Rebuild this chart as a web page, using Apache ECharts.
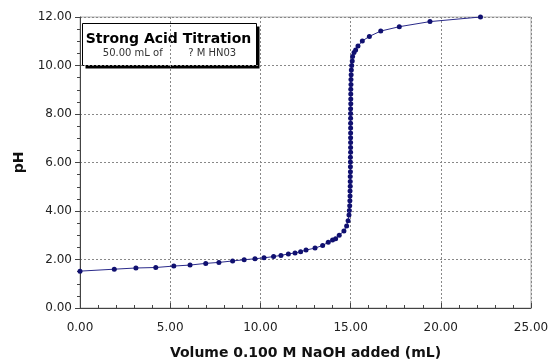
<!DOCTYPE html>
<html>
<head>
<meta charset="utf-8">
<script src="https://cdn.jsdelivr.net/npm/echarts@6/dist/echarts.min.js"></script>
<style>
  html, body { margin: 0; padding: 0; background: #fff; }
  #chart { width: 548px; height: 360px; }
</style>
</head>
<body>
<div id="chart"></div>
<script>
// titration readings (volume of NaOH in mL, measured pH)
var volumes = [
  0.00, 1.90, 3.10, 4.20, 5.20, 6.10, 6.97, 7.70, 8.46, 9.10, 9.70, 10.20,
  10.73, 11.14, 11.55, 11.92, 12.23, 12.53, 13.03, 13.45, 13.76, 14.00, 14.17,
  14.37, 14.63, 14.78, 14.86, 14.91,
  14.93, 14.95, 14.96, 14.97, 14.97, 14.98, 14.98, 14.98, 14.99, 14.99,
  14.99, 14.99, 15.00, 15.00, 15.00, 15.00, 15.00, 15.00, 15.00, 15.00,
  15.00, 15.00, 15.01, 15.01, 15.01, 15.01, 15.02, 15.02, 15.03, 15.04,
  15.06, 15.09, 15.11, 15.19, 15.28, 15.41, 15.65, 16.04, 16.67, 17.70, 19.40, 22.20
];
var phValues = [
  1.52, 1.60, 1.65, 1.67, 1.73, 1.77, 1.84, 1.88, 1.94, 1.99, 2.03, 2.07,
  2.12, 2.17, 2.23, 2.27, 2.32, 2.39, 2.47, 2.58, 2.71, 2.80, 2.86,
  3.00, 3.18, 3.38, 3.60, 3.83,
  4.02, 4.22, 4.42, 4.62, 4.82, 5.02, 5.22, 5.42, 5.62, 5.82,
  6.02, 6.22, 6.42, 6.62, 6.82, 7.02, 7.22, 7.42, 7.62, 7.82,
  8.02, 8.22, 8.42, 8.62, 8.82, 9.02, 9.22, 9.42, 9.62, 9.81,
  10.00, 10.19, 10.37, 10.54, 10.64, 10.80, 11.01, 11.20, 11.42, 11.60, 11.81, 12.00
];

var xTitle = 'Volume 0.100 M NaOH added (mL)';
var yTitle = 'pH';
var boxTitle = 'Strong Acid Titration';
var boxSub = '50.00 mL of        ? M HN03';

var points = [];
for (var i = 0; i < volumes.length; i++) {
  points.push([volumes[i], phValues[i]]);
}

var chart = echarts.init(document.getElementById('chart'));
var font = 'Verdana, "DejaVu Sans", sans-serif';

chart.setOption({
  animation: false,
  grid: {
    left: 80, right: 17, top: 17, bottom: 52,
    outerBoundsMode: 'none', containLabel: false,
    show: true, borderColor: '#b0b0b0', borderWidth: 1
  },
  xAxis: {
    type: 'value', min: 0, max: 25, interval: 5,
    name: xTitle, nameLocation: 'middle', nameGap: 38,
    nameTextStyle: { fontFamily: font, fontWeight: 'bold', fontSize: 14, color: '#111' },
    axisLine: { show: true, lineStyle: { color: '#444' } },
    axisTick: { show: true, inside: true, length: 5, lineStyle: { color: '#444' } },
    minorTick: { show: true, splitNumber: 5, length: 3, lineStyle: { color: '#444' } },
    axisLabel: {
      margin: 14, fontFamily: font, fontSize: 12, color: '#222',
      formatter: function (v) { return v.toFixed(2); }
    },
    splitLine: { show: true, lineStyle: { color: '#888', type: [2, 2] } }
  },
  yAxis: {
    type: 'value', min: 0, max: 12, interval: 2,
    name: yTitle, nameLocation: 'middle', nameGap: 52, nameRotate: 90,
    nameTextStyle: { fontFamily: font, fontWeight: 'bold', fontSize: 14, color: '#111' },
    axisLine: { show: true, lineStyle: { color: '#444' } },
    axisTick: { show: true, length: 5, lineStyle: { color: '#444' } },
    minorTick: { show: true, splitNumber: 4, length: 3, lineStyle: { color: '#444' } },
    axisLabel: {
      margin: 8, fontFamily: font, fontSize: 12, color: '#222',
      formatter: function (v) { return v.toFixed(2); }
    },
    splitLine: { show: true, lineStyle: { color: '#888', type: [2, 2] } }
  },
  series: [{
    type: 'line',
    data: points,
    symbol: 'circle',
    symbolSize: 5,
    lineStyle: { color: '#2a2a8a', width: 1 },
    itemStyle: { color: '#101070' }
  }],
  graphic: [{
    type: 'group',
    left: 82, top: 23,
    children: [
      { type: 'rect', shape: { x: 3, y: 3, width: 174, height: 42 }, style: { fill: '#000' } },
      { type: 'rect', shape: { x: 0, y: 0, width: 174, height: 42 },
        style: { fill: '#fff', stroke: '#000', lineWidth: 1 } },
      { type: 'text', x: 86, y: 16,
        style: { text: boxTitle, fill: '#000', font: 'bold 14px ' + font, align: 'center', verticalAlign: 'middle' } },
      { type: 'text', x: 87, y: 30,
        style: { text: boxSub, fill: '#333', font: '10px ' + font, align: 'center', verticalAlign: 'middle' } }
    ]
  }]
});
</script>
</body>
</html>
